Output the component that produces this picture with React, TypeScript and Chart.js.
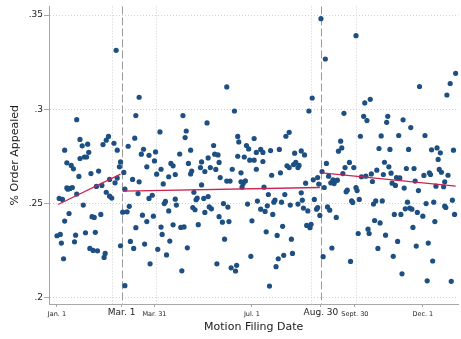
import React, { useEffect, useRef } from 'react';
import { Chart, registerables } from 'chart.js';

Chart.register(...registerables);

// Day of year (Jan. 1 = 0) and share of orders appealed, by filing date.
const janFeb: [number, number][] = [
  [0, 0.2329], [2, 0.2527], [3, 0.2336], [4, 0.229], [5, 0.2522], [6, 0.2207], [7, 0.2783], [7, 0.2407],
  [9, 0.2716], [9, 0.2583], [10, 0.2576], [11, 0.2447], [12, 0.258], [13, 0.2702], [14, 0.2585], [15, 0.2684],
  [16, 0.2297], [17, 0.2332], [18, 0.2945], [18, 0.255], [20, 0.2644], [21, 0.284], [21, 0.2739], [23, 0.2806],
  [24, 0.2492], [25, 0.2747], [26, 0.2345], [27, 0.2747], [28, 0.2815], [29, 0.2772], [30, 0.2262], [31, 0.2659],
  [32, 0.243], [33, 0.2251], [34, 0.2426], [35, 0.2347], [36, 0.2591], [37, 0.2249], [38, 0.2672], [40, 0.2442],
  [41, 0.2596], [42, 0.2813], [43, 0.2214], [44, 0.2235], [45, 0.256], [45, 0.2836], [47, 0.2856], [48, 0.2539],
  [48, 0.2628], [50, 0.2529], [52, 0.282], [53, 0.261], [54, 0.3313], [55, 0.2635], [55, 0.2783], [57, 0.2695],
  [58, 0.2721], [58, 0.2276],
];

const marAug: [number, number][] = [
  [60, 0.2454], [61, 0.2665], [62, 0.2064], [62, 0.2576], [64, 0.2456], [65, 0.2804], [66, 0.2485], [67, 0.2299],
  [69, 0.2628], [70, 0.2262], [71, 0.2847], [72, 0.2967], [72, 0.2372], [74, 0.2553], [75, 0.3064], [75, 0.2615],
  [77, 0.2762], [78, 0.2438], [79, 0.2788], [80, 0.2285], [82, 0.2695], [82, 0.2404], [84, 0.2756], [84, 0.2527],
  [85, 0.218], [87, 0.2544], [88, 0.2433], [89, 0.2726], [90, 0.2774], [91, 0.2656], [92, 0.2257], [94, 0.288],
  [95, 0.2682], [95, 0.2375], [96, 0.2336], [97, 0.2604], [98, 0.25], [99, 0.2511], [100, 0.2227], [102, 0.2642],
  [102, 0.2461], [103, 0.2301], [104, 0.2713], [106, 0.27], [106, 0.2387], [108, 0.2654], [108, 0.2523], [109, 0.2492],
  [112, 0.2763], [113, 0.2373], [114, 0.2143], [115, 0.2967], [116, 0.2376], [117, 0.285], [118, 0.2885], [119, 0.2265],
  [120, 0.2713], [122, 0.2783], [122, 0.2657], [123, 0.2672], [124, 0.2479], [125, 0.256], [126, 0.2467], [127, 0.252],
  [128, 0.2529], [129, 0.2388], [131, 0.2691], [132, 0.2721], [132, 0.2599], [134, 0.2527], [135, 0.267], [135, 0.2453],
  [137, 0.2928], [138, 0.2742], [138, 0.2537], [139, 0.2482], [140, 0.2691], [141, 0.2472], [143, 0.2808], [144, 0.2762],
  [145, 0.2681], [146, 0.218], [147, 0.2758], [148, 0.2718], [148, 0.243], [149, 0.2638], [151, 0.2401], [152, 0.25],
  [153, 0.2311], [155, 0.3119], [155, 0.2619], [156, 0.2481], [157, 0.2404], [158, 0.2619], [159, 0.2159], [160, 0.2682],
  [162, 0.2991], [163, 0.2142], [164, 0.2172], [165, 0.2856], [165, 0.2751], [166, 0.2827], [168, 0.2663], [168, 0.2615],
  [169, 0.2587], [170, 0.2606], [171, 0.2747], [172, 0.262], [173, 0.2808], [174, 0.2497], [175, 0.279], [176, 0.273],
  [177, 0.222], [178, 0.2408], [180, 0.2845], [180, 0.273], [182, 0.2771], [182, 0.2682], [183, 0.2513], [186, 0.2787],
  [186, 0.247], [188, 0.2771], [188, 0.2723], [189, 0.2587], [190, 0.2458], [191, 0.235], [192, 0.2488], [193, 0.2548],
  [194, 0.2062], [195, 0.2781], [196, 0.265], [197, 0.2442], [198, 0.2507], [199, 0.2518], [200, 0.2165], [201, 0.2331],
  [202, 0.2207], [203, 0.2787], [204, 0.2663], [205, 0.2507], [206, 0.2379], [207, 0.2225], [208, 0.2548], [209, 0.2857],
  [210, 0.27], [212, 0.2878], [212, 0.2691], [213, 0.2492], [214, 0.2311], [215, 0.2235], [216, 0.2707], [217, 0.2767],
  [218, 0.2718], [220, 0.2691], [220, 0.2497], [221, 0.2702], [223, 0.2779], [223, 0.2557], [224, 0.2518], [225, 0.2476],
  [226, 0.2758], [227, 0.2608], [228, 0.2384], [229, 0.2461], [230, 0.2991], [231, 0.2372], [232, 0.239], [233, 0.306],
  [234, 0.2626], [235, 0.2522], [237, 0.247], [238, 0.2638], [238, 0.2479], [239, 0.2603], [240, 0.2437],
];

const sepDec: [number, number][] = [
  [241, 0.3481], [242, 0.267], [243, 0.2218], [244, 0.2585], [245, 0.3267], [246, 0.2713], [247, 0.2482], [248, 0.2645],
  [249, 0.2465], [250, 0.261], [251, 0.2264], [252, 0.2626], [253, 0.2606], [254, 0.262], [255, 0.2426], [256, 0.2624],
  [257, 0.2778], [259, 0.2831], [260, 0.2795], [261, 0.2659], [262, 0.2979], [263, 0.2691], [264, 0.2562], [265, 0.2571],
  [267, 0.2718], [268, 0.2193], [269, 0.2514], [270, 0.2506], [271, 0.2691], [273, 0.3391], [273, 0.2585], [274, 0.2569],
  [275, 0.2341], [276, 0.2522], [277, 0.2857], [278, 0.2642], [280, 0.2963], [281, 0.3034], [282, 0.2645], [283, 0.294],
  [284, 0.2364], [285, 0.2341], [286, 0.3053], [287, 0.2657], [288, 0.2617], [289, 0.2497], [290, 0.241], [291, 0.2514],
  [292, 0.2677], [293, 0.2262], [294, 0.2792], [295, 0.2397], [296, 0.2859], [297, 0.2514], [298, 0.2654], [299, 0.2719],
  [300, 0.2332], [301, 0.2931], [302, 0.2963], [303, 0.2695], [304, 0.2787], [305, 0.2661], [306, 0.2608], [307, 0.222],
  [308, 0.2442], [309, 0.2596], [310, 0.2638], [311, 0.2299], [312, 0.2861], [313, 0.2636], [314, 0.2442], [315, 0.2127],
  [316, 0.2944], [317, 0.2582], [318, 0.2472], [319, 0.2686], [320, 0.2507], [321, 0.2787], [322, 0.2476], [323, 0.2903],
  [324, 0.247], [325, 0.2373], [326, 0.2686], [327, 0.2619], [328, 0.2274], [329, 0.2453], [330, 0.2569], [331, 0.3121],
  [334, 0.2433], [335, 0.2649], [336, 0.2861], [337, 0.25], [338, 0.209], [339, 0.229], [340, 0.2663], [341, 0.2654],
  [342, 0.2785], [343, 0.2195], [344, 0.2507], [345, 0.2404], [346, 0.2592], [347, 0.2795], [348, 0.2734], [349, 0.2681],
  [350, 0.2769], [351, 0.2666], [353, 0.2589], [354, 0.2615], [354, 0.2486], [355, 0.2479], [356, 0.3076], [357, 0.265],
  [359, 0.3137], [360, 0.2087], [361, 0.2518], [362, 0.2783], [363, 0.2442], [364, 0.3191],
];

// Linear fits within each filing window (start and end points).
const fitJanFeb: [number, number][] = [[1, 0.2495], [58, 0.2656]];
const fitMarAug: [number, number][] = [[60, 0.2566], [240, 0.2585]];
const fitSepDec: [number, number][] = [[242, 0.2663], [364, 0.2592]];

// Policy dates (Mar. 1 and Aug. 30) and extra reference grid.
const cutoffDays = [59, 241];
const gridDays = [50, 90, 232, 273];

const xTickDays = [0, 59, 89, 178, 241, 272, 334];
const xTickLabels = ['Jan. 1', 'Mar. 1', 'Mar. 31', 'Jul. 1', 'Aug. 30', 'Sept. 30', 'Dec. 1'];
const xMajorLabels = ['Mar. 1', 'Aug. 30'];

const yTicks = [0.2, 0.25, 0.3, 0.35];
const yTickLabels = ['.2', '.25', '.3', '.35'];

const FONT = "'DejaVu Sans', sans-serif";
const DOT = '#1d4f82';
const FIT = '#cc2452';
const AXIS = '#a8a8a8';

const toPoints = (rows: [number, number][]) => rows.map(([x, y]) => ({ x, y }));

const referenceLines = {
  id: 'referenceLines',
  beforeDatasetsDraw(chart: any) {
    const { ctx, chartArea, scales } = chart;
    const x = scales.x;
    ctx.save();
    ctx.lineWidth = 1;
    ctx.strokeStyle = '#d0d0d0';
    ctx.setLineDash([1, 2]);
    for (const d of gridDays) {
      const px = Math.round(x.getPixelForValue(d)) + 0.5;
      ctx.beginPath();
      ctx.moveTo(px, chartArea.top);
      ctx.lineTo(px, chartArea.bottom);
      ctx.stroke();
    }
    ctx.strokeStyle = '#9a9a9a';
    ctx.setLineDash([8, 3]);
    for (const d of cutoffDays) {
      const px = Math.round(x.getPixelForValue(d)) + 0.5;
      ctx.beginPath();
      ctx.moveTo(px, chartArea.top);
      ctx.lineTo(px, chartArea.bottom);
      ctx.stroke();
    }
    ctx.restore();
  },
};

export default function App() {
  const canvasRef = useRef<HTMLCanvasElement>(null);

  useEffect(() => {
    document.body.style.margin = '0';
    const canvas = canvasRef.current;
    if (!canvas) return;

    const scatterSet = (rows: [number, number][]) => ({
      type: 'scatter' as const,
      data: toPoints(rows),
      pointRadius: 2.6,
      pointBackgroundColor: DOT,
      pointBorderWidth: 0,
      pointHoverRadius: 2.6,
      order: 2,
    });
    const fitSet = (rows: [number, number][]) => ({
      type: 'line' as const,
      data: toPoints(rows),
      borderColor: FIT,
      borderWidth: 1.3,
      pointRadius: 0,
      fill: false,
      tension: 0,
      showLine: true,
      order: 1,
    });

    const chart = new Chart(canvas, {
      type: 'scatter',
      data: {
        datasets: [
          fitSet(fitJanFeb),
          fitSet(fitMarAug),
          fitSet(fitSepDec),
          scatterSet(janFeb),
          scatterSet(marAug),
          scatterSet(sepDec),
        ] as any,
      },
      options: {
        animation: false,
        responsive: false,
        devicePixelRatio: 1,
        events: [],
        layout: { padding: { left: 0, right: 1, top: 6, bottom: 0 } },
        plugins: { legend: { display: false }, tooltip: { enabled: false } },
        scales: {
          x: {
            type: 'linear',
            min: -7.3,
            max: 366.5,
            afterFit: (scale: any) => { scale.height = 35; },
            afterBuildTicks: (scale: any) => { scale.ticks = xTickDays.map((value) => ({ value })); },
            grid: { drawOnChartArea: false, drawTicks: true, tickLength: 3, tickColor: AXIS, color: AXIS },
            border: { display: true, color: AXIS, width: 1 },
            ticks: {
              autoSkip: false,
              maxRotation: 0,
              padding: 1,
              color: '#222',
              callback: (_v: any, i: number) => xTickLabels[i],
              font: (ctx: any) => {
                const label = xTickLabels[ctx.index];
                return xMajorLabels.includes(label)
                  ? { family: FONT, size: 9, lineHeight: 1 }
                  : { family: FONT, size: 6.5, lineHeight: 1.9 };
              },
            },
            title: {
              display: true,
              text: 'Motion Filing Date',
              color: '#1a1a1a',
              font: { family: FONT, size: 11 },
              padding: { top: 0, bottom: 4.9 },
            },
          },
          y: {
            type: 'linear',
            min: 0.19668,
            max: 0.35462,
            afterFit: (scale: any) => { scale.width = 49; },
            afterBuildTicks: (scale: any) => { scale.ticks = yTicks.map((value) => ({ value })); },
            grid: { color: '#d0d0d0', lineWidth: 1, drawTicks: true, tickLength: 5, tickColor: AXIS, tickBorderDash: [] },
            border: { display: true, color: AXIS, width: 1, dash: [1, 2] },
            ticks: {
              autoSkip: false,
              padding: 1,
              color: '#222',
              font: { family: FONT, size: 9 },
              callback: (_v: any, i: number) => yTickLabels[i],
            },
            title: {
              display: true,
              text: '% Order Appealed',
              color: '#1a1a1a',
              font: { family: FONT, size: 11 },
              padding: { top: 8.9, bottom: 0 },
            },
          },
        },
      },
      plugins: [referenceLines],
    });

    return () => chart.destroy();
  }, []);

  return (
    <canvas
      ref={canvasRef}
      width={461}
      height={339}
      style={{ display: 'block', width: 461, height: 339 }}
    />
  );
}
